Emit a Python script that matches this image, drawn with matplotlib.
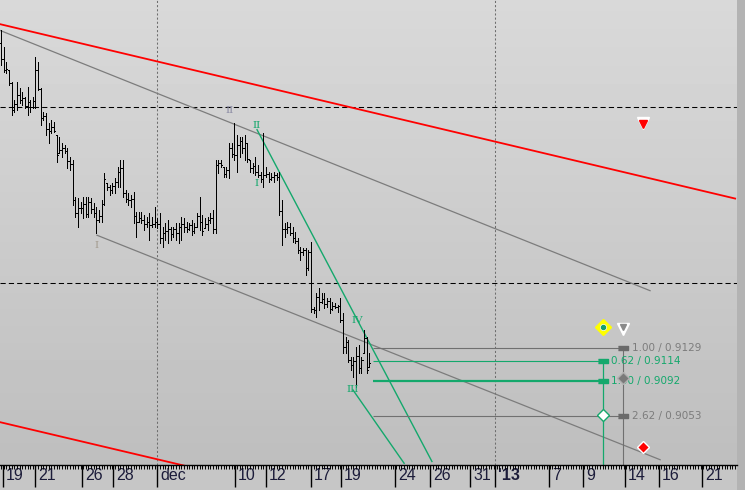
import numpy as np
import matplotlib
matplotlib.use("Agg")
import matplotlib.pyplot as plt
from matplotlib.transforms import ScaledTranslation

# 4h bars, prices in pips (1/10000)
high = [9484, 9465, 9449, 9440, 9426, 9406, 9426, 9420, 9415, 9410,
        9421, 9406, 9410, 9454, 9449, 9420, 9393, 9392, 9380, 9384,
        9382, 9367, 9365, 9358, 9356, 9352, 9342, 9339, 9298, 9297,
        9292, 9298, 9298, 9298, 9297, 9291, 9287, 9283, 9294, 9325,
        9313, 9311, 9313, 9319, 9331, 9339, 9339, 9306, 9302, 9300,
        9303, 9281, 9281, 9281, 9278, 9275, 9280, 9275, 9287, 9274,
        9280, 9264, 9269, 9272, 9264, 9264, 9269, 9269, 9275, 9274,
        9270, 9269, 9272, 9269, 9280, 9298, 9278, 9274, 9275, 9280,
        9283, 9339, 9339, 9339, 9331, 9331, 9358, 9358, 9380, 9367,
        9365, 9365, 9367, 9358, 9339, 9336, 9342, 9334, 9326, 9369,
        9331, 9326, 9325, 9326, 9325, 9326, 9294, 9269, 9270, 9269,
        9264, 9259, 9252, 9242, 9241, 9241, 9239, 9247, 9175, 9190,
        9196, 9190, 9190, 9185, 9185, 9180, 9179, 9177, 9185, 9168,
        9141, 9138, 9119, 9119, 9130, 9132, 9119, 9149, 9141, 9123]
low = [9445, 9438, 9436, 9423, 9389, 9393, 9395, 9403, 9401, 9397,
       9389, 9393, 9397, 9397, 9417, 9378, 9384, 9367, 9358, 9369,
       9370, 9337, 9347, 9342, 9347, 9330, 9328, 9289, 9275, 9264,
       9280, 9274, 9275, 9275, 9280, 9275, 9258, 9270, 9270, 9289,
       9306, 9300, 9302, 9302, 9309, 9309, 9298, 9292, 9289, 9287,
       9269, 9253, 9270, 9269, 9261, 9264, 9250, 9264, 9264, 9263,
       9246, 9242, 9250, 9246, 9250, 9253, 9250, 9246, 9250, 9259,
       9259, 9261, 9255, 9258, 9264, 9261, 9255, 9263, 9261, 9269,
       9258, 9258, 9325, 9331, 9320, 9320, 9319, 9342, 9339, 9326,
       9342, 9347, 9339, 9337, 9326, 9325, 9322, 9320, 9314, 9309,
       9320, 9314, 9317, 9314, 9317, 9278, 9244, 9253, 9258, 9255,
       9247, 9246, 9235, 9227, 9233, 9211, 9216, 9169, 9168, 9164,
       9171, 9179, 9174, 9175, 9168, 9171, 9174, 9169, 9158, 9123,
       9123, 9113, 9104, 9097, 9085, 9101, 9101, 9123, 9101, 9108]
close = [9452, 9440, 9441, 9425, 9395, 9402, 9412, 9406, 9408, 9400,
         9404, 9398, 9405, 9440, 9419, 9386, 9388, 9374, 9372, 9376,
         9372, 9345, 9350, 9352, 9349, 9338, 9335, 9294, 9280, 9285,
         9286, 9290, 9279, 9292, 9284, 9280, 9272, 9276, 9290, 9318,
         9309, 9306, 9310, 9315, 9326, 9330, 9302, 9296, 9294, 9296,
         9276, 9270, 9274, 9272, 9268, 9270, 9266, 9268, 9270, 9268,
         9252, 9258, 9260, 9262, 9256, 9262, 9258, 9264, 9268, 9264,
         9262, 9266, 9260, 9264, 9276, 9270, 9260, 9268, 9272, 9274,
         9262, 9334, 9336, 9333, 9324, 9328, 9352, 9346, 9345, 9356,
         9360, 9352, 9358, 9340, 9330, 9332, 9326, 9322, 9318, 9322,
         9324, 9318, 9320, 9322, 9320, 9282, 9262, 9262, 9264, 9258,
         9252, 9248, 9238, 9236, 9238, 9218, 9236, 9172, 9171, 9186,
         9180, 9184, 9178, 9182, 9172, 9176, 9175, 9176, 9160, 9130,
         9136, 9116, 9110, 9114, 9120, 9106, 9116, 9140, 9104, 9112]

# date axis (positions in bar units)
tick_pos = [0.75, 12.83, 30.57, 42.26, 58.87, 88.3, 100.0, 116.98, 128.3,
            148.68, 161.89, 177.0, 186.42, 206.79, 219.62, 235.47, 248.3, 264.53]
tick_labels = ['19', '21', '26', '28', 'dec', '10', '12', '17', '19',
               '24', '26', '31', "'13", '7', '9', '14', '16', '21']

# drawn objects: (bar, price)
red_upper = ([-0.38, 277.0], [0.9491, 0.9296])
red_lower = ([-0.38, 277.0], [0.9046, 0.8852])
gray_upper = ([-0.38, 244.9], [0.9484, 0.9193])
gray_lower = ([36.2, 248.7], [0.9255, 0.9004])
green_a = ([96.6, 162.6], [0.9373, 0.9002])
green_b = ([132.8, 152.1], [0.9082, 0.9000])
hlevels = [0.9398, 0.9202]
month_lines = [58.87, 186.42]

fib_price = [0.9129, 0.9114, 0.9092, 0.9053]
fib_ratio = ['1.00', '0.62', '1.00', '2.62']
fib_green = [False, True, True, False]

wave_text = ['I', 'II', 'II', 'I', 'IV', 'III']
wave_x = [36.2, 86.4, 96.6, 96.6, 134.3, 132.5]
wave_y = [0.9244, 0.9394, 0.9378, 0.9313, 0.9160, 0.9082]

GREEN = '#14a86c'
GRAY = '#707070'

hi = np.array(high) / 1e4
lo = np.array(low) / 1e4
cl = np.array(close) / 1e4
op = np.clip(np.r_[0.9470, cl[:-1]], lo, hi)  # forex: open = previous close
x = np.arange(len(hi))

fig = plt.figure(figsize=(7.45, 4.9), dpi=100)

# background shading
bg = fig.add_axes([0, 0, 1, 1], zorder=-2)
rows = np.arange(490)
shade = np.interp(rows, [0, 165, 250, 464, 465, 490], [0.85, 0.815, 0.795, 0.745, 0.775, 0.775])
img = np.repeat(shade[:, None], 745, axis=1)
img[:, 737:] = 0.70
bg.imshow(img, cmap='gray', vmin=0, vmax=1, aspect='auto', interpolation='nearest')
bg.axis('off')

ax = fig.add_axes([0, 25 / 490, 737 / 745, 465 / 490])
ax.set_facecolor('none')
ax.set_xlim(-0.38, 277.7)
ax.set_ylim(0.89981, 0.9518)

for m in month_lines:
    ax.axvline(m, color='#6e6e6e', lw=0.75, ls=(0, (2, 2)), zorder=1)
for h in hlevels:
    ax.axhline(h, color='black', lw=0.75, ls=(0, (5, 3)), zorder=1)

ax.plot(*red_upper, color='#ff0000', lw=1.3, zorder=2)
ax.plot(*red_lower, color='#ff0000', lw=1.3, zorder=2)
ax.plot(*gray_upper, color='#7c7c7c', lw=0.9, zorder=2)
ax.plot(*gray_lower, color='#7c7c7c', lw=0.9, zorder=2)
ax.plot(*green_a, color=GREEN, lw=1.0, zorder=2)
ax.plot(*green_b, color=GREEN, lw=1.0, zorder=2)

# ohlc bars
ax.vlines(x, lo, hi, color='black', lw=0.72, antialiased=False, zorder=3)
ax.hlines(op, x - 0.4, x, color='black', lw=0.72, antialiased=False, zorder=3)
ax.hlines(cl, x, x + 0.4, color='black', lw=0.72, antialiased=False, zorder=3)

# fibonacci projection
rect = [(-2, -1), (2, -1), (2, 1), (-2, 1)]
for p, r, g in zip(fib_price, fib_ratio, fib_green):
    if g:
        ax.hlines(p, 140.4, 229.1, color=GREEN, lw=1.6 if r == '1.00' else 0.8, zorder=2)
        ax.plot(227.2, p, marker=rect, ms=7, color=GREEN, zorder=4)
        ax.text(230.2, p, f'{r} / {p:.4f}', color=GREEN, fontsize=7.5, va='center', ha='left')
    else:
        ax.hlines(p, 140.4, 236.6, color=GRAY, lw=0.8, zorder=2)
        ax.plot(234.7, p, marker=rect, ms=7, color='#6a6a6a', zorder=4)
        ax.text(238.1, p, f'{r} / {p:.4f}', color='#7c7c7c', fontsize=7.5, va='center', ha='left')
ax.vlines(227.2, 0.8998, 0.9114, color=GREEN, lw=0.9, zorder=2)
ax.vlines(234.7, 0.8998, 0.9129, color=GRAY, lw=0.8, zorder=2)

ax.plot(227.2, 0.9152, marker='D', ms=8, mfc='#ffff00', mec='#ffff00', zorder=5)
ax.plot(227.2, 0.9152, marker='o', ms=4.5, mfc='#16a06a', mec='white', mew=0.5, zorder=6)
ax.plot(234.7, 0.9150, marker='v', ms=8, color='white', zorder=5)
ax.plot(234.7, 0.9152, marker='v', ms=4, color='#8a8a8a', zorder=6)
ax.plot(234.7, 0.9095, marker='D', ms=6, mfc='#7a7a7a', mec='#b0b0b0', zorder=5)
ax.plot(227.2, 0.9054, marker='D', ms=6.5, mfc='white', mec=GREEN, zorder=5)
ax.plot(242.3, 0.9018, marker='D', ms=6.5, mfc='#ff0000', mec='white', zorder=5)
ax.plot(242.3, 0.9381, marker='v', ms=9, color='white', zorder=5)
ax.plot(242.3, 0.9379, marker='v', ms=6, color='#ff0000', zorder=6)

# wave labels
for t, wx, wy, c in zip(wave_text, wave_x, wave_y,
                        ['#a49c90', '#8c8ca4', GREEN, GREEN, GREEN, GREEN]):
    ax.text(wx, wy, t, color=c, fontsize=7.5, family='DejaVu Serif',
            ha='center', va='center', zorder=6)

# date axis
ax.set_xticks(tick_pos)
ax.set_xticklabels(tick_labels, family='Liberation Sans')
ax.set_xticks(np.arange(0, 278), minor=True)
ax.tick_params(axis='x', which='major', length=16, width=1, direction='out',
               pad=-14, labelsize=11.5, labelcolor='#1c1c3a', color='black')
ax.tick_params(axis='x', which='minor', length=3, width=0.7, color='black')
ax.set_yticks([])
for s in ['top', 'left', 'right']:
    ax.spines[s].set_visible(False)
ax.spines['bottom'].set_linewidth(1.0)

shift = ScaledTranslation(0.03, 0, fig.dpi_scale_trans)
for lab in ax.get_xticklabels():
    lab.set_horizontalalignment('left')
    lab.set_transform(lab.get_transform() + shift)
    if lab.get_text() == "'13":
        lab.set_fontweight('bold')

fig.savefig('out.png', dpi=100)
